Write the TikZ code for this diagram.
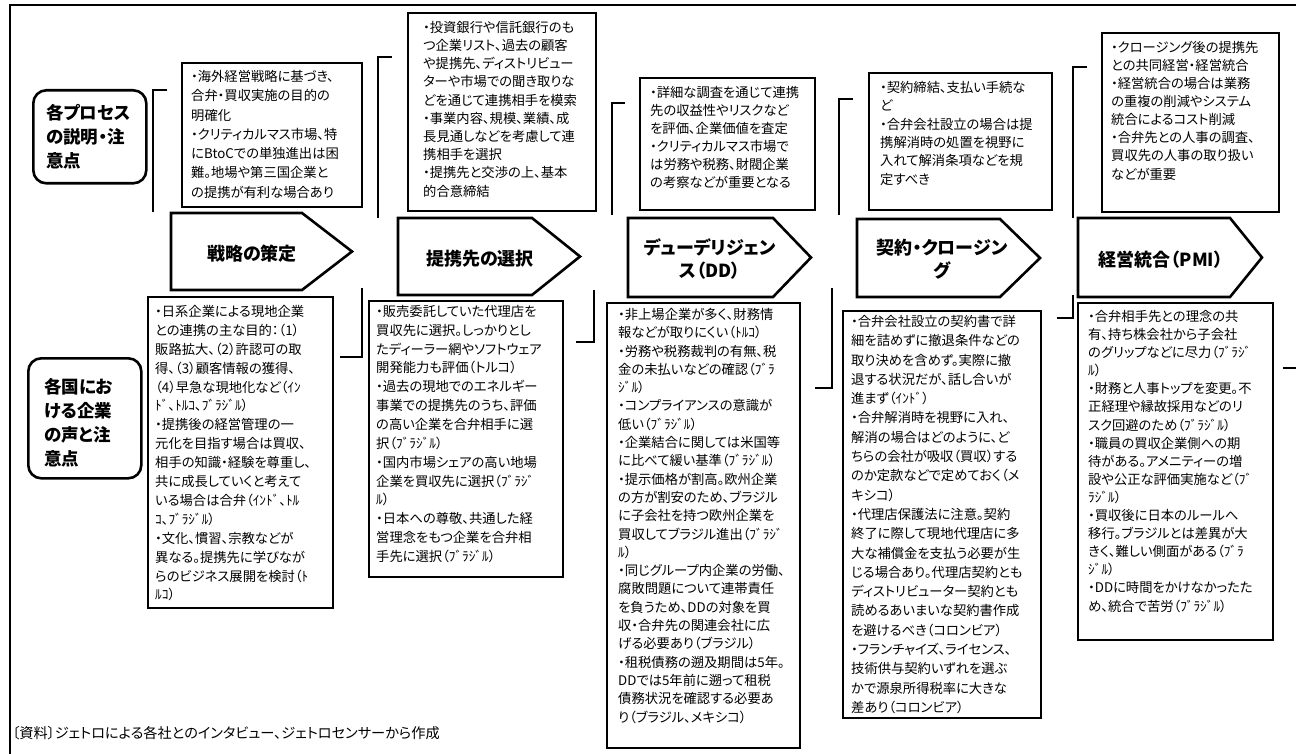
\documentclass[tikz,border=0pt]{standalone}
\usepackage{fontspec}
\setmainfont{Noto Sans CJK JP}[RawFeature=+palt]
\usetikzlibrary{calc}
\tikzset{
  box/.style={draw=black, line width=1.1pt, anchor=north west, inner sep=0pt, outer sep=0pt},
  txt/.style={anchor=north west, inner sep=0pt, align=left, font=\fontsize{13.3}{#1}\selectfont},
  txt/.default=18.6,
  proc/.style={draw=black, line width=2.6pt, line join=miter},
  ttl/.style={font=\bfseries\fontsize{18}{23}\selectfont, align=center, inner sep=0pt},
  lbl/.style={draw=black, line width=2.6pt, rounded corners=13pt, anchor=north west, inner sep=0pt},
  lbltxt/.style={font=\bfseries\fontsize{17.5}{24}\selectfont, align=left, anchor=north west, inner sep=0pt},
  brk/.style={draw=black, line width=1.1pt},
  foot/.style={font=\fontsize{14.2}{16}\selectfont, anchor=west, inner sep=0pt}
}
\begin{document}
\begin{tikzpicture}[x=1pt,y=-1pt]
\useasboundingbox (0,0) rectangle (1296,754);
% frame
\draw[brk] (1296,5) -- (10,5) -- (10,754);

% left labels
\node[lbl, minimum width=113pt, minimum height=93pt] (LB1) at (32,89) {};
\node[lbltxt] (LB1t) at ($(LB1.north west)+(14,15)$) {各プロセス\\の説明・注\\意点};
\node[lbl, minimum width=113pt, minimum height=120pt] (LB2) at (27,357) {};
\node[lbltxt] (LB2t) at ($(LB2.north west)+(17,21)$) {各国にお\\ける企業\\の声と注\\意点};

% process arrows
\draw[proc] (171,213) -- (302,213) -- (352,251.5) -- (302,290) -- (171,290) -- cycle;
\node[ttl] (A1) at (252,254) {戦略の策定};
\draw[proc] (398,218) -- (532,218) -- (580,256.5) -- (532,295) -- (398,295) -- cycle;
\node[ttl] (A2) at (480,259) {提携先の選択};
\draw[proc] (628,218) -- (773,218) -- (811,257.5) -- (773,297) -- (628,297) -- cycle;
\node[ttl] (A3) at (710,259) {デューデリジェン\\ス（DD）};
\draw[proc] (857,219) -- (1000,219) -- (1040,258) -- (1000,297) -- (857,297) -- cycle;
\node[ttl] (A4) at (942,259) {契約・クロージン\\グ};
\draw[proc] (1078,218) -- (1230,218) -- (1262,257.5) -- (1230,297) -- (1078,297) -- cycle;
\node[ttl] (A5) at (1161,260) {経営統合（PMI）};

% top brackets
\draw[brk] (167,90) -- (153,90) -- (153,212);
\draw[brk] (392,57) -- (378,57) -- (378,218);
\draw[brk] (625,103) -- (612,103) -- (612,215);
\draw[brk] (853,99) -- (839,99) -- (839,215);
\draw[brk] (1087,67) -- (1073,67) -- (1073,218);

% bottom brackets
\draw[brk] (362,288) -- (362,357) -- (340,357);
\draw[brk] (594,290) -- (594,342) -- (576,342);
\draw[brk] (832,288) -- (832,388) -- (815,388);
\draw[brk] (1073,295) -- (1073,318) -- (1057,318);
\draw[brk] (1283,368) -- (1296,368);

% top boxes
\node[box, minimum width=180pt, minimum height=144pt] (T1) at (182,63) {};
\node[txt=19.3] (T1t) at (191,70) {・海外経営戦略に基づき、\\合弁・買収実施の目的の\\明確化\\・クリティカルマス市場、特\\にBtoCでの単独進出は困\\難。地場や第三国企業と\\の提携が有利な場合あり};
\node[box, minimum width=188pt, minimum height=198pt] (T2) at (408,13) {};
\node[txt=18.2] (T2t) at (423,21) {・投資銀行や信託銀行のも\\つ企業リスト、過去の顧客\\や提携先、ディストリビュー\\ターや市場での聞き取りな\\どを通じて連携相手を模索\\・事業内容、規模、業績、成\\長見通しなどを考慮して連\\携相手を選択\\・提携先と交渉の上、基本\\的合意締結};
\node[box, minimum width=175pt, minimum height=132pt] (T3) at (640,78) {};
\node[txt=18.1] (T3t) at (650,86) {・詳細な調査を通じて連携\\先の収益性やリスクなど\\を評価、企業価値を査定\\・クリティカルマス市場で\\は労務や税務、財閥企業\\の考察などが重要となる};
\node[box, minimum width=183pt, minimum height=137pt] (T4) at (869,73) {};
\node[txt=18.4] (T4t) at (880,81) {・契約締結、支払い手続な\\ど\\・合弁会社設立の場合は提\\携解消時の処置を視野に\\入れて解消条項などを規\\定すべき};
\node[box, minimum width=177pt, minimum height=179pt] (T5) at (1102,33) {};
\node[txt=18.1] (T5t) at (1111,41) {・クロージング後の提携先\\との共同経営・経営統合\\・経営統合の場合は業務\\の重複の削減やシステム\\統合によるコスト削減\\・合弁先との人事の調査、\\買収先の人事の取り扱い\\などが重要};

% bottom boxes
\node[box, minimum width=185pt, minimum height=311pt] (L1) at (148,297) {};
\node[txt=18.9] (L1t) at (155,305) {・日系企業による現地企業\\との連携の主な目的：（1）\\販路拡大、（2）許認可の取\\得、（3）顧客情報の獲得、\\（4）早急な現地化など（ｲﾝ\\ﾄﾞ、ﾄﾙｺ、ﾌﾞﾗｼﾞﾙ）\\・提携後の経営管理の一\\元化を目指す場合は買収、\\相手の知識・経験を尊重し、\\共に成長していくと考えて\\いる場合は合弁（ｲﾝﾄﾞ、ﾄﾙ\\ｺ、ﾌﾞﾗｼﾞﾙ）\\・文化、慣習、宗教などが\\異なる。提携先に学びなが\\らのビジネス展開を検討（ﾄ\\ﾙｺ）};
\node[box, minimum width=194pt, minimum height=276pt] (L2) at (369,301) {};
\node[txt=18.85] (L2t) at (376,305) {・販売委託していた代理店を\\買収先に選択。しっかりとし\\たディーラー網やソフトウェア\\開発能力も評価（トルコ）\\・過去の現地でのエネルギー\\事業での提携先のうち、評価\\の高い企業を合弁相手に選\\択（ﾌﾞﾗｼﾞﾙ）\\・国内市場シェアの高い地場\\企業を買収先に選択（ﾌﾞﾗｼﾞ\\ﾙ）\\・日本への尊敬、共通した経\\営理念をもつ企業を合弁相\\手先に選択（ﾌﾞﾗｼﾞﾙ）};
\node[box, minimum width=193pt, minimum height=445pt] (L3) at (607,303) {};
\node[txt=18.3] (L3t) at (618,308) {・非上場企業が多く、財務情\\報などが取りにくい（ﾄﾙｺ）\\・労務や税務裁判の有無、税\\金の未払いなどの確認（ﾌﾞﾗ\\ｼﾞﾙ）\\・コンプライアンスの意識が\\低い（ﾌﾞﾗｼﾞﾙ）\\・企業結合に関しては米国等\\に比べて緩い基準（ﾌﾞﾗｼﾞﾙ）\\・提示価格が割高。欧州企業\\の方が割安のため、ブラジル\\に子会社を持つ欧州企業を\\買収してブラジル進出（ﾌﾞﾗｼﾞ\\ﾙ）\\・同じグループ内企業の労働、\\腐敗問題について連帯責任\\を負うため、DDの対象を買\\収・合弁先の関連会社に広\\げる必要あり（ブラジル）\\・租税債務の遡及期間は5年。\\DDでは5年前に遡って租税\\債務状況を確認する必要あ\\り（ブラジル、メキシコ）};
\node[box, minimum width=198pt, minimum height=407pt] (L4) at (843,311) {};
\node[txt=19.3] (L4t) at (851,315) {・合弁会社設立の契約書で詳\\細を詰めずに撤退条件などの\\取り決めを含めず。実際に撤\\退する状況だが、話し合いが\\進まず（ｲﾝﾄﾞ）\\・合弁解消時を視野に入れ、\\解消の場合はどのように、ど\\ちらの会社が吸収（買収）する\\のか定款などで定めておく（メ\\キシコ）\\・代理店保護法に注意。契約\\終了に際して現地代理店に多\\大な補償金を支払う必要が生\\じる場合あり。代理店契約とも\\ディストリビューター契約とも\\読めるあいまいな契約書作成\\を避けるべき（コロンビア）\\・フランチャイズ、ライセンス、\\技術供与契約いずれを選ぶ\\かで源泉所得税率に大きな\\差あり（コロンビア）};
\node[box, minimum width=195pt, minimum height=337pt] (L5) at (1078,303) {};
\node[txt=18.1] (L5t) at (1088,310) {・合弁相手先との理念の共\\有、持ち株会社から子会社\\のグリップなどに尽力（ﾌﾞﾗｼﾞ\\ﾙ）\\・財務と人事トップを変更。不\\正経理や縁故採用などのリ\\スク回避のため（ﾌﾞﾗｼﾞﾙ）\\・職員の買収企業側への期\\待がある。アメニティーの増\\設や公正な評価実施など（ﾌﾞ\\ﾗｼﾞﾙ）\\・買収後に日本のルールへ\\移行。ブラジルとは差異が大\\きく、難しい側面がある（ﾌﾞﾗ\\ｼﾞﾙ）\\・DDに時間をかけなかったた\\め、統合で苦労（ﾌﾞﾗｼﾞﾙ）};

% footer
\node[foot] (src) at (12,733) {〔資料〕ジェトロによる各社とのインタビュー、ジェトロセンサーから作成};
\end{tikzpicture}
\end{document}
